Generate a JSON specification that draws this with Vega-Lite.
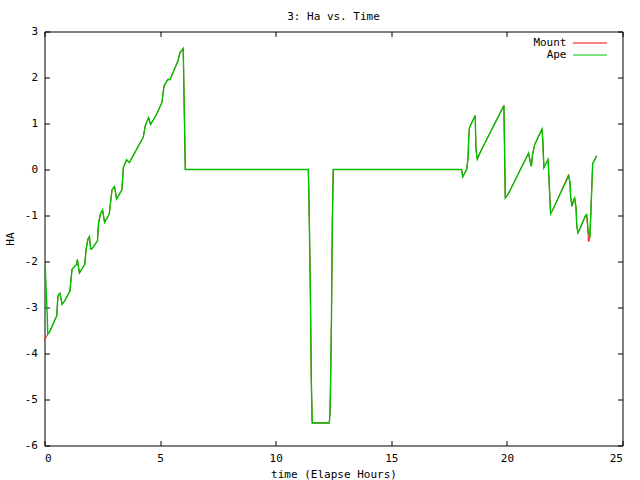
{
  "$schema": "https://vega.github.io/schema/vega-lite/v6.json",
  "width": 578,
  "height": 414,
  "autosize": "none",
  "padding": {"left": 44.5, "top": 31.5, "right": 17, "bottom": 34},
  "background": "white",
  "title": {"text": "3: Ha vs. Time", "font": "DejaVu Sans Mono", "fontSize": 11, "fontWeight": "normal", "color": "black", "offset": 4},
  "config": {
    "view": {"stroke": "black", "strokeWidth": 1},
    "axis": {
      "domain": false, "grid": false, "tickColor": "black", "tickSize": -5, "tickWidth": 1,
      "labelFont": "DejaVu Sans Mono", "labelFontSize": 11, "labelColor": "black", "labelPadding": 12,
      "titleFont": "DejaVu Sans Mono", "titleFontSize": 11, "titleFontWeight": "normal", "titleColor": "black"
    },
    "legend": {
      "orient": "none", "legendX": 539, "legendY": 5, "padding": 0, "title": null,
      "symbolType": "M-3,0H3", "symbolSize": 128, "symbolStrokeWidth": 1,
      "labelAlign": "right", "labelOffset": -30,
      "labelFont": "DejaVu Sans Mono", "labelFontSize": 11, "labelColor": "black", "rowPadding": -1
    }
  },
  "data": {"values": [
    {"s":"Mount","t":0.0,"v":-3.70},{"s":"Mount","t":0.14,"v":-3.58},{"s":"Mount","t":0.21,"v":-3.54},{"s":"Mount","t":0.53,"v":-3.18},{"s":"Mount","t":0.58,"v":-2.75},{"s":"Mount","t":0.67,"v":-2.69},{"s":"Mount","t":0.76,"v":-2.93},{"s":"Mount","t":0.87,"v":-2.86},{"s":"Mount","t":1.10,"v":-2.64},{"s":"Mount","t":1.19,"v":-2.17},{"s":"Mount","t":1.39,"v":-2.06},{"s":"Mount","t":1.42,"v":-1.96},{"s":"Mount","t":1.51,"v":-2.25},{"s":"Mount","t":1.74,"v":-2.06},{"s":"Mount","t":1.80,"v":-1.73},{"s":"Mount","t":1.88,"v":-1.51},{"s":"Mount","t":1.94,"v":-1.46},{"s":"Mount","t":2.00,"v":-1.73},{"s":"Mount","t":2.06,"v":-1.72},{"s":"Mount","t":2.29,"v":-1.55},{"s":"Mount","t":2.34,"v":-1.15},{"s":"Mount","t":2.43,"v":-0.95},{"s":"Mount","t":2.51,"v":-0.88},{"s":"Mount","t":2.60,"v":-1.15},{"s":"Mount","t":2.80,"v":-0.97},{"s":"Mount","t":2.92,"v":-0.44},{"s":"Mount","t":3.03,"v":-0.37},{"s":"Mount","t":3.12,"v":-0.64},{"s":"Mount","t":3.35,"v":-0.44},{"s":"Mount","t":3.41,"v":0.04},{"s":"Mount","t":3.55,"v":0.21},{"s":"Mount","t":3.67,"v":0.15},{"s":"Mount","t":4.27,"v":0.70},{"s":"Mount","t":4.36,"v":0.95},{"s":"Mount","t":4.50,"v":1.13},{"s":"Mount","t":4.59,"v":0.98},{"s":"Mount","t":4.85,"v":1.20},{"s":"Mount","t":5.08,"v":1.46},{"s":"Mount","t":5.17,"v":1.82},{"s":"Mount","t":5.34,"v":1.96},{"s":"Mount","t":5.43,"v":1.95},{"s":"Mount","t":5.77,"v":2.36},{"s":"Mount","t":5.86,"v":2.54},{"s":"Mount","t":6.00,"v":2.63},{"s":"Mount","t":6.09,"v":0},{"s":"Mount","t":11.41,"v":0},{"s":"Mount","t":11.43,"v":-0.42},{"s":"Mount","t":11.46,"v":-1.30},{"s":"Mount","t":11.50,"v":-2.68},{"s":"Mount","t":11.54,"v":-4.57},{"s":"Mount","t":11.58,"v":-5.51},{"s":"Mount","t":12.32,"v":-5.51},{"s":"Mount","t":12.35,"v":-5.25},{"s":"Mount","t":12.37,"v":-4.75},{"s":"Mount","t":12.41,"v":-3.33},{"s":"Mount","t":12.45,"v":-1.12},{"s":"Mount","t":12.49,"v":0},{"s":"Mount","t":18.04,"v":0},{"s":"Mount","t":18.09,"v":-0.16},{"s":"Mount","t":18.26,"v":0},{"s":"Mount","t":18.32,"v":0.25},{"s":"Mount","t":18.35,"v":0.69},{"s":"Mount","t":18.38,"v":0.91},{"s":"Mount","t":18.55,"v":1.09},{"s":"Mount","t":18.63,"v":1.17},{"s":"Mount","t":18.66,"v":0.45},{"s":"Mount","t":18.72,"v":0.22},{"s":"Mount","t":18.81,"v":0.33},{"s":"Mount","t":18.98,"v":0.51},{"s":"Mount","t":19.87,"v":1.39},{"s":"Mount","t":19.90,"v":0.40},{"s":"Mount","t":19.93,"v":-0.62},{"s":"Mount","t":20.05,"v":-0.54},{"s":"Mount","t":20.94,"v":0.36},{"s":"Mount","t":21.00,"v":0.18},{"s":"Mount","t":21.06,"v":0.07},{"s":"Mount","t":21.11,"v":0.33},{"s":"Mount","t":21.20,"v":0.54},{"s":"Mount","t":21.52,"v":0.88},{"s":"Mount","t":21.55,"v":0.65},{"s":"Mount","t":21.60,"v":0.04},{"s":"Mount","t":21.69,"v":0.13},{"s":"Mount","t":21.78,"v":0.22},{"s":"Mount","t":21.81,"v":-0.07},{"s":"Mount","t":21.86,"v":-0.65},{"s":"Mount","t":21.89,"v":-0.96},{"s":"Mount","t":21.98,"v":-0.88},{"s":"Mount","t":22.67,"v":-0.11},{"s":"Mount","t":22.73,"v":-0.29},{"s":"Mount","t":22.76,"v":-0.62},{"s":"Mount","t":22.82,"v":-0.80},{"s":"Mount","t":22.87,"v":-0.69},{"s":"Mount","t":22.93,"v":-0.62},{"s":"Mount","t":22.99,"v":-0.83},{"s":"Mount","t":23.02,"v":-1.20},{"s":"Mount","t":23.07,"v":-1.38},{"s":"Mount","t":23.16,"v":-1.29},{"s":"Mount","t":23.39,"v":-1.01},{"s":"Mount","t":23.45,"v":-0.98},{"s":"Mount","t":23.46,"v":-1.09},{"s":"Mount","t":23.51,"v":-1.30},{"s":"Mount","t":23.52,"v":-1.56},{"s":"Mount","t":23.55,"v":-1.56},{"s":"Mount","t":23.58,"v":-1.50},{"s":"Mount","t":23.62,"v":-1.09},{"s":"Mount","t":23.68,"v":-0.29},{"s":"Mount","t":23.71,"v":0.13},{"s":"Mount","t":23.77,"v":0.18},{"s":"Mount","t":23.88,"v":0.30},
    {"s":"Ape","t":0.03,"v":-2.08},{"s":"Ape","t":0.06,"v":-2.46},{"s":"Ape","t":0.12,"v":-3.18},{"s":"Ape","t":0.14,"v":-3.58},{"s":"Ape","t":0.21,"v":-3.54},{"s":"Ape","t":0.53,"v":-3.18},{"s":"Ape","t":0.58,"v":-2.75},{"s":"Ape","t":0.67,"v":-2.69},{"s":"Ape","t":0.76,"v":-2.93},{"s":"Ape","t":0.87,"v":-2.86},{"s":"Ape","t":1.10,"v":-2.64},{"s":"Ape","t":1.19,"v":-2.17},{"s":"Ape","t":1.39,"v":-2.06},{"s":"Ape","t":1.42,"v":-1.96},{"s":"Ape","t":1.51,"v":-2.25},{"s":"Ape","t":1.74,"v":-2.06},{"s":"Ape","t":1.80,"v":-1.73},{"s":"Ape","t":1.88,"v":-1.51},{"s":"Ape","t":1.94,"v":-1.46},{"s":"Ape","t":2.00,"v":-1.73},{"s":"Ape","t":2.06,"v":-1.72},{"s":"Ape","t":2.29,"v":-1.55},{"s":"Ape","t":2.34,"v":-1.15},{"s":"Ape","t":2.43,"v":-0.95},{"s":"Ape","t":2.51,"v":-0.88},{"s":"Ape","t":2.60,"v":-1.15},{"s":"Ape","t":2.80,"v":-0.97},{"s":"Ape","t":2.92,"v":-0.44},{"s":"Ape","t":3.03,"v":-0.37},{"s":"Ape","t":3.12,"v":-0.64},{"s":"Ape","t":3.35,"v":-0.44},{"s":"Ape","t":3.41,"v":0.04},{"s":"Ape","t":3.55,"v":0.21},{"s":"Ape","t":3.67,"v":0.15},{"s":"Ape","t":4.27,"v":0.70},{"s":"Ape","t":4.36,"v":0.95},{"s":"Ape","t":4.50,"v":1.13},{"s":"Ape","t":4.59,"v":0.98},{"s":"Ape","t":4.85,"v":1.20},{"s":"Ape","t":5.08,"v":1.46},{"s":"Ape","t":5.17,"v":1.82},{"s":"Ape","t":5.34,"v":1.96},{"s":"Ape","t":5.43,"v":1.95},{"s":"Ape","t":5.77,"v":2.36},{"s":"Ape","t":5.86,"v":2.54},{"s":"Ape","t":6.00,"v":2.63},{"s":"Ape","t":6.09,"v":0},{"s":"Ape","t":11.41,"v":0},{"s":"Ape","t":11.43,"v":-0.42},{"s":"Ape","t":11.46,"v":-1.30},{"s":"Ape","t":11.50,"v":-2.68},{"s":"Ape","t":11.54,"v":-4.57},{"s":"Ape","t":11.58,"v":-5.51},{"s":"Ape","t":12.32,"v":-5.51},{"s":"Ape","t":12.35,"v":-5.25},{"s":"Ape","t":12.37,"v":-4.75},{"s":"Ape","t":12.41,"v":-3.33},{"s":"Ape","t":12.45,"v":-1.12},{"s":"Ape","t":12.49,"v":0},{"s":"Ape","t":18.04,"v":0},{"s":"Ape","t":18.09,"v":-0.16},{"s":"Ape","t":18.26,"v":0},{"s":"Ape","t":18.32,"v":0.25},{"s":"Ape","t":18.35,"v":0.69},{"s":"Ape","t":18.38,"v":0.91},{"s":"Ape","t":18.55,"v":1.09},{"s":"Ape","t":18.63,"v":1.17},{"s":"Ape","t":18.66,"v":0.45},{"s":"Ape","t":18.72,"v":0.22},{"s":"Ape","t":18.81,"v":0.33},{"s":"Ape","t":18.98,"v":0.51},{"s":"Ape","t":19.87,"v":1.39},{"s":"Ape","t":19.90,"v":0.40},{"s":"Ape","t":19.93,"v":-0.62},{"s":"Ape","t":20.05,"v":-0.54},{"s":"Ape","t":20.94,"v":0.36},{"s":"Ape","t":21.00,"v":0.18},{"s":"Ape","t":21.06,"v":0.07},{"s":"Ape","t":21.11,"v":0.33},{"s":"Ape","t":21.20,"v":0.54},{"s":"Ape","t":21.52,"v":0.88},{"s":"Ape","t":21.55,"v":0.65},{"s":"Ape","t":21.60,"v":0.04},{"s":"Ape","t":21.69,"v":0.13},{"s":"Ape","t":21.78,"v":0.22},{"s":"Ape","t":21.81,"v":-0.07},{"s":"Ape","t":21.86,"v":-0.65},{"s":"Ape","t":21.89,"v":-0.96},{"s":"Ape","t":21.98,"v":-0.88},{"s":"Ape","t":22.67,"v":-0.14},{"s":"Ape","t":22.73,"v":-0.29},{"s":"Ape","t":22.76,"v":-0.62},{"s":"Ape","t":22.82,"v":-0.80},{"s":"Ape","t":22.87,"v":-0.69},{"s":"Ape","t":22.93,"v":-0.62},{"s":"Ape","t":22.99,"v":-0.83},{"s":"Ape","t":23.02,"v":-1.20},{"s":"Ape","t":23.07,"v":-1.38},{"s":"Ape","t":23.16,"v":-1.29},{"s":"Ape","t":23.39,"v":-1.01},{"s":"Ape","t":23.45,"v":-0.98},{"s":"Ape","t":23.48,"v":-1.09},{"s":"Ape","t":23.51,"v":-1.38},{"s":"Ape","t":23.57,"v":-1.40},{"s":"Ape","t":23.59,"v":-1.49},{"s":"Ape","t":23.62,"v":-1.09},{"s":"Ape","t":23.68,"v":-0.29},{"s":"Ape","t":23.71,"v":0.13},{"s":"Ape","t":23.77,"v":0.18},{"s":"Ape","t":23.88,"v":0.30}
  ]},
  "layer": [
    {
      "transform": [{"filter": "datum.s === 'Mount'"}],
      "mark": {"type": "line", "strokeWidth": 1},
      "encoding": {
        "x": {"field": "t", "type": "quantitative", "scale": {"domain": [0, 25], "nice": false},
              "axis": {"orient": "bottom", "title": "time (Elapse Hours)", "titlePadding": 5, "values": [0, 5, 10, 15, 20, 25], "labelExpr": "toString(datum.value)"}},
        "y": {"field": "v", "type": "quantitative", "scale": {"domain": [-6, 3], "nice": false},
              "axis": {"orient": "left", "title": "HA", "titlePadding": 9, "values": [-6, -5, -4, -3, -2, -1, 0, 1, 2, 3], "labelExpr": "toString(datum.value)"}},
        "color": {"field": "s", "type": "nominal", "scale": {"domain": ["Mount", "Ape"], "range": ["#ff0000", "#00c000"]}}
      }
    },
    {
      "transform": [{"filter": "datum.s === 'Ape'"}],
      "mark": {"type": "line", "strokeWidth": 1.4},
      "encoding": {
        "x": {"field": "t", "type": "quantitative", "scale": {"domain": [0, 25], "nice": false},
              "axis": {"orient": "top", "title": null, "labels": false, "values": [0, 5, 10, 15, 20, 25]}},
        "y": {"field": "v", "type": "quantitative", "scale": {"domain": [-6, 3], "nice": false},
              "axis": {"orient": "right", "title": null, "labels": false, "values": [-6, -5, -4, -3, -2, -1, 0, 1, 2, 3]}},
        "color": {"field": "s", "type": "nominal", "scale": {"domain": ["Mount", "Ape"], "range": ["#ff0000", "#00c000"]}}
      }
    }
  ],
  "resolve": {"axis": {"x": "independent", "y": "independent"}}
}
